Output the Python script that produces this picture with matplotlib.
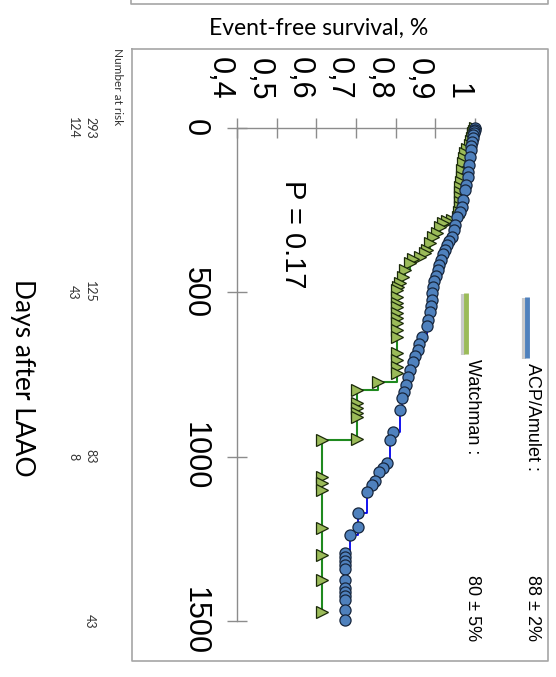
import matplotlib
matplotlib.use("Agg")
import matplotlib.pyplot as plt
from matplotlib.transforms import ScaledTranslation, blended_transform_factory
import numpy as np

W, H, DPI = 556, 677, 100

# ---- axis ticks -------------------------------------------------------------
surv_ticks = [0.4, 0.5, 0.6, 0.7, 0.8, 0.9, 1.0]
surv_labels = ["0,4", "0,5", "0,6", "0,7", "0,8", "0,9", "1"]
day_ticks = [0, 500, 1000, 1500]
day_labels = ["0", "500", "1000", "1500"]

# ---- Kaplan-Meier curves (day, survival) -----------------------------------
acp_days = [0, 5, 10, 15, 21, 30, 43, 55, 67, 88, 113, 134, 149, 173, 189, 219,
            240, 256, 271, 295, 310, 332, 344, 356, 371, 383, 402, 417, 432,
            450, 465, 484, 502, 523, 542, 560, 584, 602, 636, 657, 675, 694,
            712, 736, 758, 782, 803, 821, 858, 925, 949, 1019, 1034, 1047,
            1074, 1086, 1107, 1171, 1214, 1238, 1293, 1305, 1317, 1329, 1342,
            1375, 1399, 1412, 1424, 1436, 1466, 1497]
acp_surv = [1.0, 0.999, 0.998, 0.997, 0.995, 0.994, 0.992, 0.991, 0.990, 0.987,
            0.985, 0.982, 0.982, 0.977, 0.975, 0.970, 0.967, 0.962, 0.955,
            0.950, 0.947, 0.942, 0.934, 0.929, 0.924, 0.919, 0.914, 0.909,
            0.907, 0.902, 0.897, 0.894, 0.892, 0.892, 0.889, 0.887, 0.881,
            0.879, 0.866, 0.859, 0.856, 0.849, 0.844, 0.836, 0.831, 0.826,
            0.821, 0.816, 0.811, 0.793, 0.786, 0.778, 0.768, 0.758, 0.748,
            0.740, 0.728, 0.705, 0.705, 0.685, 0.672, 0.672, 0.672, 0.672,
            0.672, 0.672, 0.672, 0.672, 0.672, 0.672, 0.672, 0.672]

wm_days = [0, 8, 15, 22, 30, 40, 52, 64, 76, 90, 106, 128, 149, 165, 179, 195,
           210, 225, 240, 255, 271, 280, 283, 290, 301, 319, 332, 350, 371,
           380, 392, 399, 411, 432, 453, 472, 484, 493, 514, 532, 545, 563,
           578, 593, 615, 636, 685, 706, 727, 745, 773, 797, 837, 852, 867,
           879, 945, 949, 1062, 1080, 1101, 1217, 1299, 1375, 1472]
wm_surv = [1.0, 0.998, 0.996, 0.994, 0.992, 0.990, 0.987, 0.980, 0.975, 0.972,
           0.970, 0.968, 0.967, 0.964, 0.962, 0.962, 0.962, 0.962, 0.962,
           0.960, 0.957, 0.942, 0.930, 0.919, 0.912, 0.904, 0.894, 0.887,
           0.879, 0.874, 0.861, 0.844, 0.836, 0.823, 0.818, 0.811, 0.806,
           0.803, 0.803, 0.803, 0.803, 0.803, 0.803, 0.803, 0.803, 0.803,
           0.803, 0.803, 0.803, 0.803, 0.755, 0.702, 0.702, 0.702, 0.702,
           0.702, 0.702, 0.614, 0.614, 0.614, 0.614, 0.614, 0.614, 0.614,
           0.614]

# ---- number at risk -----------------------------------------------------------
risk_days_acp = [0, 500, 1000, 1500]
risk_acp = [293, 125, 83, 43]
risk_days_wm = [0, 500, 1000]
risk_wm = [124, 43, 8]

legend_names = ["ACP/Amulet :", "Watchman :"]
legend_values = ["88 ± 2%", "80 ± 5%"]
p_text = "P = 0.17"

ACP_FILL, ACP_LINE = "#4f81bd", "#0000ee"
WM_FILL, WM_LINE = "#9bbb59", "#1f8a1f"
GRID_GREY = "#8c8c8c"
BOX_GREY = "#a6a6a6"

SANS = ["Liberation Sans", "DejaVu Sans"]
HUMAN = ["Lato", "DejaVu Sans"]

fig = plt.figure(figsize=(W / DPI, H / DPI), dpi=DPI)
fig.patch.set_facecolor("white")

# pixel-space overlay for frames and free text
ov = fig.add_axes([0, 0, 1, 1], zorder=0)
ov.set_xlim(0, W)
ov.set_ylim(H, 0)
ov.axis("off")

# frames
ov.plot([132, 548, 548, 132, 132], [49, 49, 661, 661, 49], color=BOX_GREY, lw=1.2)
ov.plot([131, 131, 548, 548], [-2, 4, 4, -2], color=BOX_GREY, lw=1.2)

# data axes: survival runs left-to-right, days run top-to-bottom
x0, x1, y0, y1 = 237, 475, 128, 621
ax = fig.add_axes([x0 / W, 1 - y1 / H, (x1 - x0) / W, (y1 - y0) / H], zorder=1)
ax.patch.set_visible(False)
ax.set_xlim(0.4, 1.0)
ax.set_ylim(1500, 0)
for side in ("right", "bottom"):
    ax.spines[side].set_visible(False)
for side in ("left", "top"):
    ax.spines[side].set_color(GRID_GREY)
    ax.spines[side].set_linewidth(1.0)
ax.xaxis.set_ticks_position("top")
ax.yaxis.set_ticks_position("left")
ax.set_xticks(surv_ticks)
ax.set_yticks(day_ticks)
ax.tick_params(axis="both", direction="inout", length=15, width=1.0,
               color=GRID_GREY, labeltop=False, labelbottom=False,
               labelleft=False, labelright=False)


def km_path(days, surv):
    d = np.asarray(days, float)
    s = np.asarray(surv, float)
    xs = np.repeat(s, 2)[:-1]
    ys = np.repeat(d, 2)[1:]
    return xs, ys


gx, gy = km_path(wm_days, wm_surv)
ax.plot(gx, gy, color=WM_LINE, lw=1.5, clip_on=False, zorder=2)
ax.plot(wm_surv, wm_days, ls="none", marker=">", ms=9, mfc=WM_FILL,
        mec="#1b2a0a", mew=0.9, clip_on=False, zorder=3)

bx, by = km_path(acp_days, acp_surv)
ax.plot(bx, by, color=ACP_LINE, lw=1.3, clip_on=False, zorder=4)
ax.plot(acp_surv, acp_days, ls="none", marker="o", ms=8, mfc=ACP_FILL,
        mec="#17263d", mew=0.9, clip_on=False, zorder=5)

# tick labels (rotated with the rest of the chart)
for s, lab in zip(surv_ticks, surv_labels):
    tr = ax.transData + ScaledTranslation(-17 / DPI, 28 / DPI, fig.dpi_scale_trans)
    ax.text(s, 0, lab, transform=tr, rotation=270, rotation_mode="anchor",
            ha="right", va="center", fontsize=22, family=SANS)
for d, lab in zip(day_ticks, day_labels):
    tr = ax.transData + ScaledTranslation(-42 / DPI, 0, fig.dpi_scale_trans)
    ax.text(0.4, d, lab, transform=tr, rotation=270, rotation_mode="anchor",
            ha="center", va="center", fontsize=22, family=SANS)

# titles
ov.text(319, 28, "Event-free survival, %", ha="center", va="center",
        fontsize=16.5, family=HUMAN)
ov.text(22, 378, "Days after LAAO", rotation=270, rotation_mode="anchor",
        ha="center", va="center", fontsize=19, family=HUMAN)

# number at risk
ov.text(117, 48, "Number at risk", rotation=270, rotation_mode="anchor",
        ha="left", va="center", fontsize=8.5, family=HUMAN, color="#333333")
bt = blended_transform_factory(ov.transData, ax.transData)
for d, n in zip(risk_days_acp, risk_acp):
    ov.text(90, d, str(n), transform=bt, rotation=270, rotation_mode="anchor",
            ha="center", va="center", fontsize=9, family=HUMAN, color="#333333")
for d, n in zip(risk_days_wm, risk_wm):
    ov.text(73, d, str(n), transform=bt, rotation=270, rotation_mode="anchor",
            ha="center", va="center", fontsize=9, family=HUMAN, color="#333333")

# p-value
ov.text(293, 180, p_text, rotation=270, rotation_mode="anchor",
        ha="left", va="center", fontsize=21, family=SANS)

# legend
for xb, col, name, val, yb in ((527, ACP_FILL, legend_names[0], legend_values[0], 297),
                               (466, WM_FILL, legend_names[1], legend_values[1], 293)):
    ov.plot([xb - 3, xb - 3], [yb + 1, yb + 62], color="#bdbdbd", lw=3,
            solid_capstyle="butt", alpha=0.8)
    ov.plot([xb, xb], [yb, yb + 61], color=col, lw=3.5, solid_capstyle="butt")
    ov.text(xb + 6, yb + 66, name, rotation=270, rotation_mode="anchor",
            ha="left", va="center", fontsize=13, family=SANS)
    ov.text(xb + 6, 575, val, rotation=270, rotation_mode="anchor",
            ha="left", va="center", fontsize=13, family=SANS)

fig.savefig("out.png", dpi=DPI)
